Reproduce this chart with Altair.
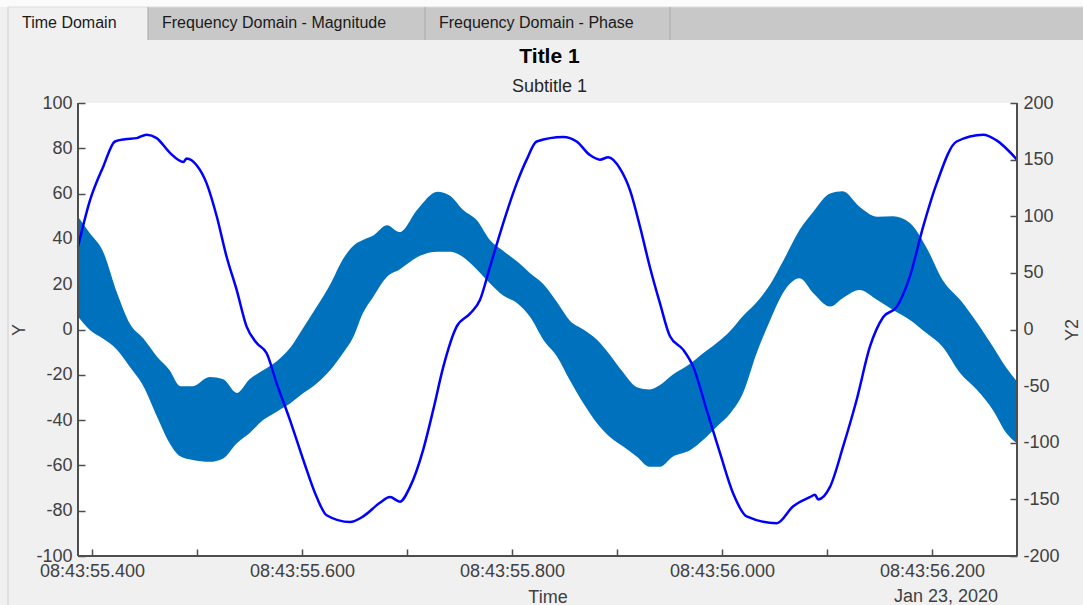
import altair as alt
import pandas as pd

# ---------------- data (time in ms after 08:43:55.000, Jan 23 2020) ----------------
T_BAND = [386.7, 398, 410, 424, 436, 449, 462, 474, 484, 496, 512, 525, 538, 550, 563,
          576, 589, 601, 614, 627, 639, 649, 658, 668, 681, 693, 710, 729, 741, 753,
          767, 779, 791, 805, 817, 830, 843, 855, 868, 881, 893, 906, 919, 931, 941,
          953, 970, 982, 995, 1008, 1020, 1033, 1046, 1058, 1074, 1087, 1103, 1115,
          1131, 1148, 1163, 1179, 1195, 1210, 1227, 1243, 1258, 1271, 1281]
Y_UPPER = [49.8, 42.5, 35, 16, 2.7, -4, -12, -18, -25, -25, -21, -22, -28, -22, -18,
           -14, -8, 0.5, 10, 20, 31, 37, 39.5, 41.5, 46, 43, 53, 60.8, 59, 53,
           48, 39.5, 35, 30, 25, 20, 12, 4, 0, -4.5, -11, -19, -25.5, -26.5, -24.5,
           -20, -15, -10.5, -6, -0.5, 6, 12, 20, 30, 44, 52, 60, 61,
           54.2, 49.8, 50, 47, 36, 22, 13, 3, -7.5, -17, -23]
Y_LOWER = [5.7, -0.2, -3.9, -9, -16.4, -25, -38.5, -50.2, -56, -57.6, -58.4, -56.9, -50.2, -45.8, -40,
           -36.3, -32.6, -28.2, -23.8, -17.9, -10.5, -3.2, 7.2, 14.5, 23.3, 26.5, 32, 34.3, 34.3, 32.1,
           26.3, 20.4, 15.2, 11.6, 5.7, -4.6, -12, -22.3, -32.6, -41.4, -47.3, -51.7, -56.2, -60.6, -60.6,
           -56.2, -53.2, -48.8, -42.9, -37, -28.2, -10.5, 4.2, 16, 22.6, 16, 10.1, 13.8,
           17.4, 13, 8.6, 4.2, -1.7, -7.6, -19.3, -26.7, -35.5, -45.8, -50.2]

T_LINE = [386.7, 398.1, 410.8, 421.9, 431.4, 442.6, 452.1, 461.6, 474.3, 487.0, 490.2, 499.7,
          509.2, 518.8, 528.3, 537.8, 547.3, 556.9, 566.4, 575.9, 588.6, 601.2, 614.0, 623.5,
          645.7, 658.4, 674.3, 683.8, 693.3, 702.9, 715.5, 725.0, 734.6, 747.3, 760.0, 769.5,
          779.0, 791.7, 804.5, 814.0, 823.5, 848.9, 861.6, 874.3, 883.8, 891.7, 902.9, 912.4,
          921.9, 931.4, 941.0, 950.5, 963.2, 972.7, 985.4, 998.1, 1010.8, 1023.5, 1052.1, 1067.9,
          1083.8, 1088.6, 1091.7, 1102.9, 1115.5, 1128.3, 1141.0, 1153.6, 1166.4, 1179.0, 1191.7,
          1204.5, 1223.5, 1248.9, 1261.6, 1281.0]
Y2_LINE = [73, 114, 144, 166, 168, 169, 172, 169, 156, 148, 151, 145,
           129, 100, 64, 35, 2.5, -12, -21, -47.5, -80, -115, -148, -164,
           -170, -165, -153, -148, -152, -139, -106, -71, -33, 2.5, 14, 26,
           55, 94, 129, 150, 166, 170, 166, 154, 150, 152, 142, 123,
           91, 55, 23, -6, -18, -33, -71, -109, -145, -165, -171, -156,
           -148, -146, -150, -139, -103, -62, -15, 11, 20, 47, 91,
           129, 166, 172, 167, 150]

X_DOMAIN = [386.7, 1281.0]
X_TICKS = [400, 500, 600, 700, 800, 900, 1000, 1100, 1200]
Y_TICKS = [-100, -80, -60, -40, -20, 0, 20, 40, 60, 80, 100]
Y2_TICKS = [-200, -150, -100, -50, 0, 50, 100, 150, 200]
TAB_LABELS = ["Time Domain", "Frequency Domain - Magnitude", "Frequency Domain - Phase"]
TITLE = "Title 1"
SUBTITLE = "Subtitle 1"
X_TITLE = "Time"
Y_TITLE = "Y"
Y2_TITLE = "Y2"
DATE_LABEL = "Jan 23, 2020"

# ---------------- styling ----------------
W, H = 939, 453
PAD_L, PAD_T, PAD_R, PAD_B = 78, 103, 66, 49
TICK = 7
FONT = "Liberation Sans"
AXIS_COL = "#4d4d4d"
LABEL_COL = "#404040"
BAND_COL = "#0072BD"
LINE_COL = "#0000FF"

band_df = pd.DataFrame({"t": T_BAND, "upper": Y_UPPER, "lower": Y_LOWER})
line_df = pd.DataFrame({"t": T_LINE, "y2": Y2_LINE})
one = alt.Data(values=[{"k": 1}])

x_enc = alt.X(
    "t:Q",
    scale=alt.Scale(domain=X_DOMAIN, nice=False, zero=False),
    axis=alt.Axis(
        orient="bottom", values=X_TICKS, offset=-TICK, tickSize=TICK, domain=False,
        labelExpr="datum.value % 200 === 0 ? '08:43:' + format(55 + datum.value / 1000, '06.3f') : ''",
        labelPadding=6, title=X_TITLE, titlePadding=8,
    ),
)

band = alt.Chart(band_df).mark_area(color=BAND_COL, opacity=1, interpolate="monotone").encode(
    x=x_enc,
    y=alt.Y(
        "upper:Q",
        scale=alt.Scale(domain=[-100, 100], nice=False, zero=False),
        axis=alt.Axis(orient="left", values=Y_TICKS, offset=-TICK, tickSize=TICK, domain=False,
                      labelExpr="'' + datum.value", labelPadding=6,
                      title=Y_TITLE, titlePadding=7, titleAngle=270),
    ),
    y2="lower:Q",
)

line = alt.Chart(line_df).mark_line(color=LINE_COL, strokeWidth=2.5, interpolate="monotone").encode(
    x=x_enc,
    y=alt.Y(
        "y2:Q",
        scale=alt.Scale(domain=[-200, 200], nice=False, zero=False),
        axis=alt.Axis(orient="right", values=Y2_TICKS, offset=-TICK, tickSize=TICK, domain=False,
                      labelExpr="'' + datum.value", labelPadding=6,
                      title=Y2_TITLE, titlePadding=4, titleAngle=270, titleBaseline="top"),
    ),
)


def rect(x0, x1, y0, y1, color):
    return alt.Chart(one).mark_rect(color=color).encode(
        x=alt.value(x0), x2=alt.value(x1), y=alt.value(y0), y2=alt.value(y1))


def rule(x0, x1, y0, y1, color, w):
    return alt.Chart(one).mark_rule(color=color, strokeWidth=w).encode(
        x=alt.value(x0), x2=alt.value(x1), y=alt.value(y0), y2=alt.value(y1))


def text(s, x, y, size, align="left", color="#1a1a1a", weight="normal"):
    return alt.Chart(one).mark_text(text=s, font=FONT, fontSize=size, align=align,
                                    baseline="middle", color=color, fontWeight=weight).encode(
        x=alt.value(x), y=alt.value(y))


# window chrome (tab strip) in pixel coordinates relative to the plot origin
tab_top, tab_bot = 7 - PAD_T, 40 - PAD_T
tab_edges = [8, 148, 425, 670]
chrome = [
    rect(-PAD_L, W + PAD_R, -PAD_T, tab_top, "#fbfbfb"),
    rect(tab_edges[0] - PAD_L, W + PAD_R, tab_top, tab_bot, "#c8c8c8"),
    rect(tab_edges[0] - PAD_L, tab_edges[1] - PAD_L, tab_top, tab_bot + 1, "#f0f0f0"),
    rule(tab_edges[0] - PAD_L, W + PAD_R, tab_top, tab_top, "#dcdcdc", 1),
    rule(tab_edges[0] - PAD_L, tab_edges[0] - PAD_L, tab_top, H + PAD_B, "#cfcfcf", 1),
    rule(tab_edges[1] - PAD_L, tab_edges[1] - PAD_L, tab_top, tab_bot, "#a8a8a8", 1),
    rule(tab_edges[2] - PAD_L, tab_edges[2] - PAD_L, tab_top, tab_bot, "#a8a8a8", 1),
    rule(tab_edges[3] - PAD_L, tab_edges[3] - PAD_L, tab_top, tab_bot, "#a8a8a8", 1),
]
tab_text_y = 23 - PAD_T
chrome += [text(lbl, e + 14 - PAD_L, tab_text_y, 16) for lbl, e in zip(TAB_LABELS, tab_edges)]

titles = [
    text(TITLE, W / 2 + 2, 57 - PAD_T, 21, align="center", color="#000000", weight="bold"),
    text(SUBTITLE, W / 2 + 2, 87 - PAD_T, 18, align="center", color="#262626"),
]

frame = [
    rule(0, 0, 0, H, AXIS_COL, 2),
    rule(W, W, 0, H, AXIS_COL, 2),
    rule(0, W, H, H, AXIS_COL, 2),
]
date_txt = text(DATE_LABEL, 946 - PAD_L, 597 - PAD_T, 18, align="center", color=LABEL_COL)

chart = alt.layer(*chrome, *titles, band, line, *frame, date_txt).resolve_scale(
    y="independent"
).properties(
    width=W, height=H,
    padding={"left": PAD_L, "top": PAD_T, "right": PAD_R, "bottom": PAD_B},
    autosize=alt.AutoSizeParams(type="none"),
    background="#f0f0f0",
).configure_view(
    stroke=None, fill="white"
).configure_axis(
    grid=False, labelFont=FONT, labelFontSize=18, labelColor=LABEL_COL,
    titleFont=FONT, titleFontSize=18, titleFontWeight="normal", titleColor=LABEL_COL,
    tickColor=AXIS_COL, tickWidth=1.5, labelOverlap=False, labelFlush=False,
)

chart.save("out.html", embed_options={"renderer": "svg", "actions": False})
